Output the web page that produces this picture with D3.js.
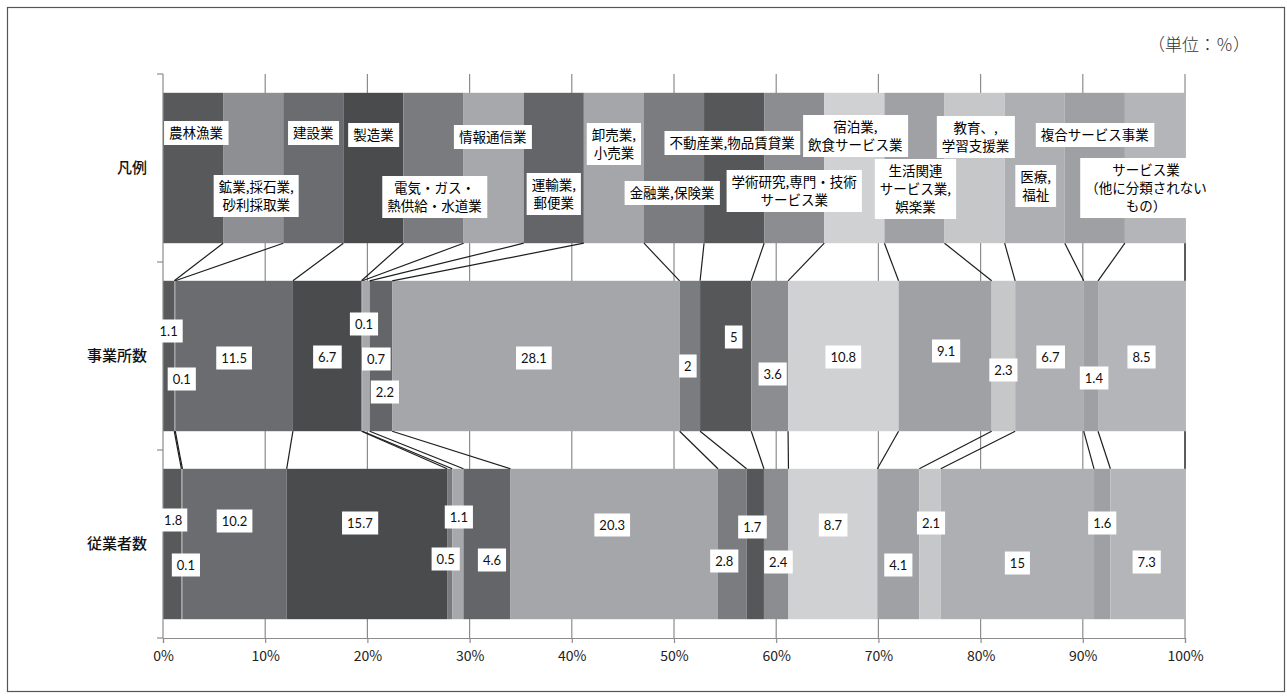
<!DOCTYPE html>
<html>
<head>
<meta charset="utf-8">
<title>産業別 事業所数・従業者数の構成比</title>
<script src="https://cdn.jsdelivr.net/npm/d3@7"></script>
<style>
  body { margin: 0; background: #fff; }
  svg text { font-family: "Noto Sans CJK JP", sans-serif; }
  .num text { font-family: Lato, "Open Sans", sans-serif; }
</style>
</head>
<body>
<script>

// chart size
var w = 1287;
var h = 699;
var margin = {top: 74, right: 102, bottom: 61, left: 163};

// rows on the vertical axis (top to bottom)
var rows = ["凡例", "事業所数", "従業者数"];

// industries = the stacked series
var industries = ["農林漁業", "鉱業,採石業,砂利採取業", "建設業", "製造業",
  "電気・ガス・熱供給・水道業", "情報通信業", "運輸業,郵便業", "卸売業,小売業",
  "金融業,保険業", "不動産業,物品賃貸業", "学術研究,専門・技術サービス業",
  "宿泊業,飲食サービス業", "生活関連サービス業,娯楽業", "教育、,学習支援業",
  "医療,福祉", "複合サービス事業", "サービス業（他に分類されないもの）"];

// how the legend names are broken into lines
var legendLines = [["農林漁業"], ["鉱業,採石業,", "砂利採取業"], ["建設業"], ["製造業"],
  ["電気・ガス・", "熱供給・水道業"], ["情報通信業"], ["運輸業,", "郵便業"], ["卸売業,", "小売業"],
  ["金融業,保険業"], ["不動産業,物品賃貸業"], ["学術研究,専門・技術", "サービス業"],
  ["宿泊業,", "飲食サービス業"], ["生活関連", "サービス業,", "娯楽業"], ["教育、,", "学習支援業"],
  ["医療,", "福祉"], ["複合サービス事業"], ["サービス業", "（他に分類されない", "もの）"]];

// values (%) - the legend row is just equal parts
var legendRow = [1, 1, 1, 1, 1, 1, 1, 1, 1, 1, 1, 1, 1, 1, 1, 1, 1];
var officeRow = [1.1, 0.1, 11.5, 6.7, 0.1, 0.7, 2.2, 28.1, 2, 5, 3.6, 10.8, 9.1, 2.3, 6.7, 1.4, 8.5];
var workerRow = [1.8, 0.1, 10.2, 15.7, 0.5, 1.1, 4.6, 20.3, 2.8, 1.7, 2.4, 8.7, 4.1, 2.1, 15, 1.6, 7.3];

var xTicks = [0, 0.1, 0.2, 0.3, 0.4, 0.5, 0.6, 0.7, 0.8, 0.9, 1];

// grey shades, one per industry
var colors = ["#58595b", "#8e8f92", "#6b6c6f", "#4a4b4d", "#7a7b7e", "#a7a8ab", "#646568",
  "#a5a6a9", "#7b7c7f", "#565759", "#8c8d90", "#d0d1d3", "#a0a1a4", "#c6c7c9",
  "#aeafb2", "#9fa0a3", "#b4b5b8"];

// label nudges (px) so the small labels do not sit on top of each other
var legendDx = [3, 3, 0, 0, 1, -1, 0, 0, -2, -2, 0, 1, 1, 1, 1, 0, -9];
var legendDy = [-35, 28, -35, -33, 29, -31, 26, -24, 25, -25, 23, -32, 21, -31, 18, -33, 20];
var officeDx = [0, 7, 0, 0, 2, 10, 4, -2, -2, 8, 3, 0, 1, 0, 1, 3, 0];
var officeDy = [-25, 23, 2, 1, -32, 3, 36, 2, 10, -19, 18, 1, -5, 14, 1, 22, 1];
var workerDx = [1, 4, 0, -7, -4, 1, 5, -2, -8, -3, 2, 0, 0, 1, 0, 0, -1];
var workerDy = [-24, 21, -23, -21, 15, -27, 16, -19, 17, -17, 18, -19, 21, -21, 19, -21, 18];

// build the table d3.stack wants
var rowValues = [legendRow, officeRow, workerRow];
var table = rows.map(function(r, i) {
  var o = {row: r};
  industries.forEach(function(name, k) { o[k] = rowValues[i][k]; });
  return o;
});
var keys = industries.map(function(d, k) { return k; });

// 100% stacked, like the original
var series = d3.stack().keys(keys).offset(d3.stackOffsetExpand)(table);

var xScale = d3.scaleLinear()
  .domain([0, 1])
  .range([margin.left, w - margin.right]);

var yScale = d3.scaleBand()
  .domain(rows)
  .range([margin.top, h - margin.bottom])
  .paddingInner(0.2)
  .paddingOuter(0.1);

var svg = d3.select("body")
  .append("svg")
  .attr("width", w)
  .attr("height", h);

// outer frame
svg.append("rect")
  .attr("x", 7.5).attr("y", 7.5)
  .attr("width", w - 10).attr("height", h - 15)
  .attr("fill", "none")
  .attr("stroke", "#555")
  .attr("stroke-width", 1.2);

// unit note
svg.append("text")
  .attr("x", 1250)
  .attr("y", 51)
  .attr("text-anchor", "end")
  .attr("font-family", "'Liberation Serif', 'Noto Sans CJK JP', serif")
  .attr("font-size", "17px")
  .attr("font-weight", 300)
  .attr("fill", "#333")
  .text("（単位：％）");

// vertical gridlines
svg.append("g")
  .selectAll("line")
  .data(xTicks.slice(1))
  .enter()
  .append("line")
  .attr("x1", function(d) { return xScale(d); })
  .attr("x2", function(d) { return xScale(d); })
  .attr("y1", margin.top)
  .attr("y2", h - margin.bottom)
  .attr("stroke", "#8c8c8c")
  .attr("stroke-width", 1.2);

// stacked bars
svg.append("g")
  .selectAll("g")
  .data(series)
  .enter()
  .append("g")
  .attr("fill", function(d) { return colors[d.key]; })
  .selectAll("rect")
  .data(function(d) { return d; })
  .enter()
  .append("rect")
  .attr("x", function(d) { return xScale(d[0]); })
  .attr("width", function(d) { return xScale(d[1]) - xScale(d[0]); })
  .attr("y", function(d) { return yScale(d.data.row); })
  .attr("height", yScale.bandwidth());

// series lines joining the segment ends of neighbouring bars
var links = [];
series.forEach(function(s) {
  for (var i = 0; i < rows.length - 1; i++) {
    links.push({a: s[i], b: s[i + 1]});
  }
});
svg.append("g")
  .selectAll("line")
  .data(links)
  .enter()
  .append("line")
  .attr("x1", function(d) { return xScale(d.a[1]); })
  .attr("y1", function(d) { return yScale(d.a.data.row) + yScale.bandwidth(); })
  .attr("x2", function(d) { return xScale(d.b[1]); })
  .attr("y2", function(d) { return yScale(d.b.data.row); })
  .attr("stroke", "#1e1e1e")
  .attr("stroke-width", 1.2);

// x axis
var xAxis = d3.axisBottom(xScale)
  .tickValues(xTicks)
  .tickFormat(d3.format(".0%"))
  .tickSize(5)
  .tickPadding(8);
var gx = svg.append("g")
  .attr("transform", "translate(0," + (h - margin.bottom) + ")")
  .call(xAxis);
gx.select(".domain").attr("stroke", "#8c8c8c").attr("stroke-width", 1.2);
gx.selectAll(".tick line").attr("stroke", "#8c8c8c").attr("stroke-width", 1.2);
gx.selectAll(".tick text")
  .attr("font-family", "Lato, 'Open Sans', sans-serif")
  .attr("font-size", "14px")
  .attr("fill", "#222");

// y axis: line, ticks at the band edges, row names
svg.append("line")
  .attr("x1", margin.left).attr("x2", margin.left)
  .attr("y1", margin.top).attr("y2", h - margin.bottom)
  .attr("stroke", "#8c8c8c").attr("stroke-width", 1.2);
var edges = d3.range(rows.length + 1).map(function(i) { return margin.top + i * yScale.step(); });
svg.append("g")
  .selectAll("line")
  .data(edges)
  .enter()
  .append("line")
  .attr("x1", margin.left - 6).attr("x2", margin.left)
  .attr("y1", function(d) { return d; }).attr("y2", function(d) { return d; })
  .attr("stroke", "#8c8c8c").attr("stroke-width", 1.2);

svg.append("g")
  .selectAll("text")
  .data(rows)
  .enter()
  .append("text")
  .attr("x", margin.left - 16)
  .attr("y", function(d) { return yScale(d) + yScale.bandwidth() / 2; })
  .attr("dy", "0.35em")
  .attr("text-anchor", "end")
  .attr("font-size", "15px")
  .attr("font-weight", 500)
  .attr("fill", "#111")
  .text(function(d) { return d; });

// legend labels inside the top bar
var lineH = 18;
var lg = svg.append("g")
  .selectAll("g")
  .data(series)
  .enter()
  .append("g")
  .attr("transform", function(s) {
    var d = s[0];
    var cx = xScale((d[0] + d[1]) / 2) + legendDx[s.key];
    var cy = yScale(d.data.row) + yScale.bandwidth() / 2 + legendDy[s.key];
    return "translate(" + cx + "," + cy + ")";
  });
lg.each(function(s) {
  var g = d3.select(this);
  var lines = legendLines[s.key];
  var box = g.append("rect").attr("fill", "#fff");
  var t = g.append("text")
    .attr("text-anchor", "middle")
    .attr("font-size", "13.5px")
    .attr("fill", "#000");
  lines.forEach(function(l, j) {
    t.append("tspan")
      .attr("x", 0)
      .attr("y", (j - (lines.length - 1) / 2) * lineH)
      .attr("dy", "0.35em")
      .text(l);
  });
  var bb = t.node().getBBox();
  box.attr("x", bb.x - 5).attr("y", -(lines.length * lineH + 6) / 2)
    .attr("width", bb.width + 10).attr("height", lines.length * lineH + 6);
});

// value labels for the two data rows
var dxs = [null, officeDx, workerDx];
var dys = [null, officeDy, workerDy];
var vals = [];
series.forEach(function(s) {
  for (var i = 1; i < rows.length; i++) {
    vals.push({d: s[i], k: s.key, i: i});
  }
});
var vg = svg.append("g")
  .attr("class", "num")
  .selectAll("g")
  .data(vals)
  .enter()
  .append("g")
  .attr("transform", function(v) {
    var cx = xScale((v.d[0] + v.d[1]) / 2) + dxs[v.i][v.k];
    var cy = yScale(v.d.data.row) + yScale.bandwidth() / 2 + dys[v.i][v.k];
    return "translate(" + cx + "," + cy + ")";
  });
vg.each(function(v) {
  var g = d3.select(this);
  var box = g.append("rect").attr("fill", "#fff");
  var t = g.append("text")
    .attr("text-anchor", "middle")
    .attr("dy", "0.35em")
    .attr("font-size", "13px")
    .attr("fill", "#111")
    .text(rowValues[v.i][v.k]);
  var bb = t.node().getBBox();
  box.attr("x", bb.x - 5).attr("y", -11.5)
    .attr("width", bb.width + 10).attr("height", 23);
});

</script>
</body>
</html>
